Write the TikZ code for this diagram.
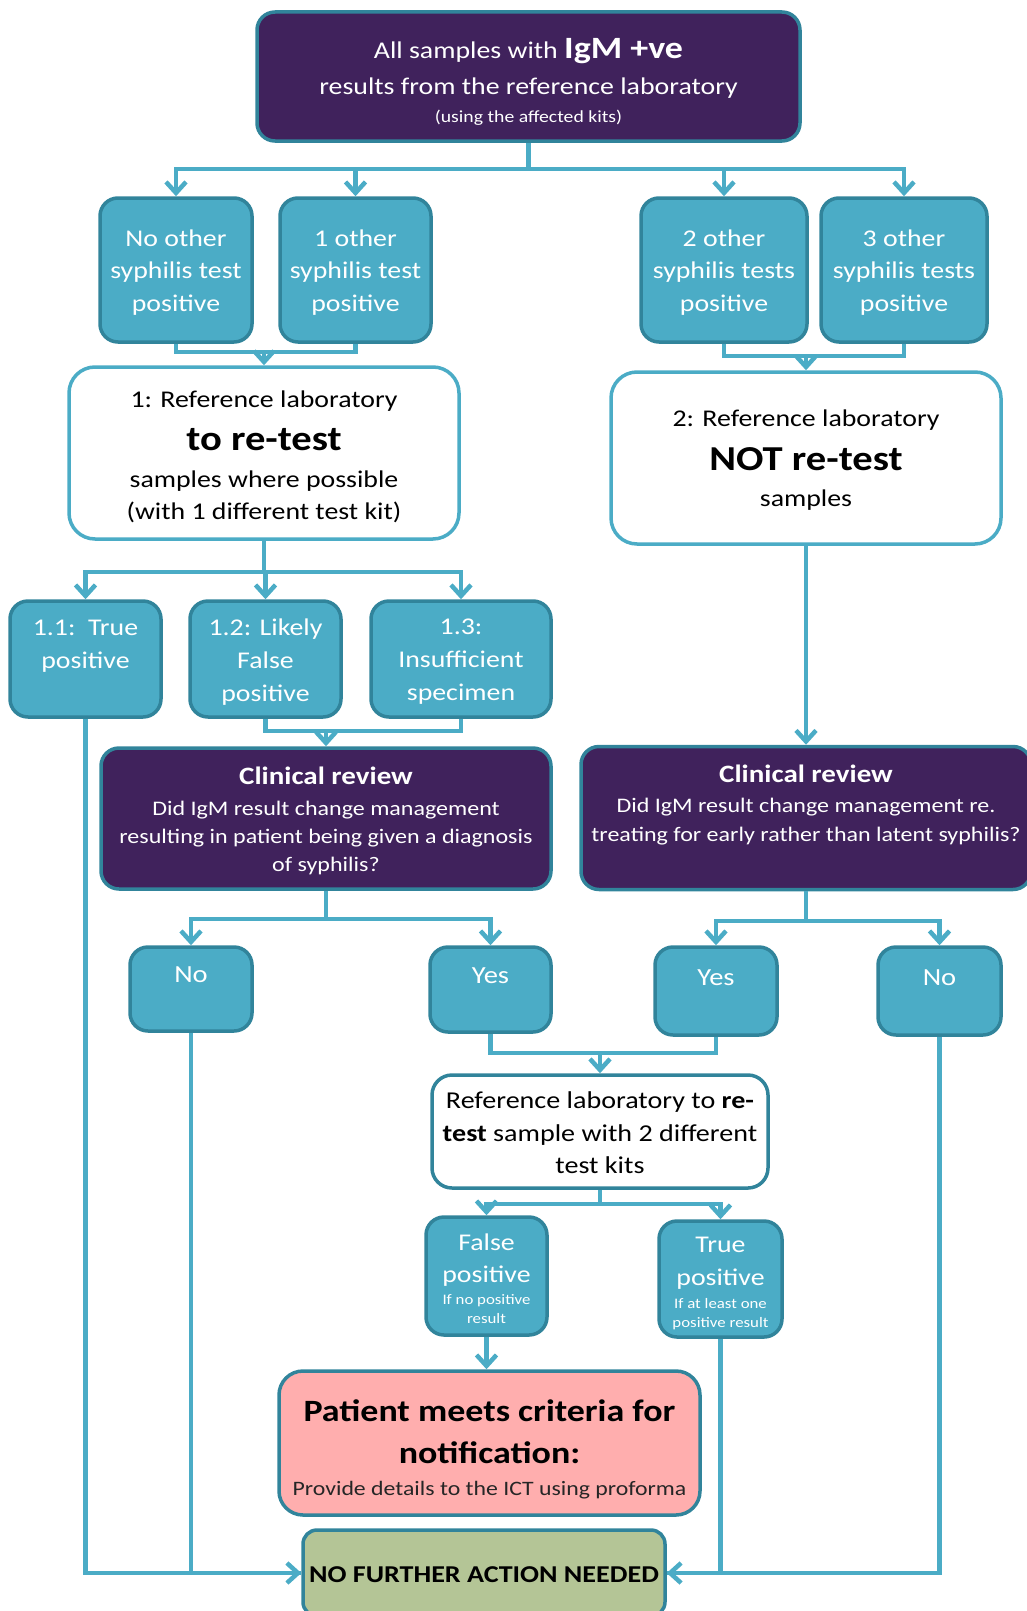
\documentclass[tikz,border=0pt]{standalone}
\usepackage{fontspec}
\setmainfont{Carlito}[FakeStretch=1.16]
\usetikzlibrary{arrows.meta}

\definecolor{aqua}{HTML}{4BACC6}
\definecolor{aquadark}{HTML}{31849B}
\definecolor{plum}{RGB}{64,34,92}
\definecolor{rose}{RGB}{255,174,174}
\definecolor{sage}{RGB}{180,197,150}

\newcommand{\fsz}[2]{\fontsize{#1}{#2}\selectfont}

\begin{document}
\begin{tikzpicture}[x=1pt,y=-1pt,
  box/.style={rectangle, rounded corners=18pt, line width=3.5pt, inner sep=0pt},
  tealbox/.style={box, fill=aqua, draw=aquadark},
  plumbox/.style={box, fill=plum, draw=aquadark},
  whitebox/.style={box, fill=white, draw=aqua, rounded corners=26pt},
  txt/.style={align=center, inner sep=0pt},
  wtxt/.style={txt, text=white},
  conn/.style={draw=aqua, line width=4.5pt},
  arr/.style={conn, -{Straight Barb[length=11pt,width=20pt]}},
]
\useasboundingbox (0,0) rectangle (1027,1611);

% ---------- boxes ----------
\node[plumbox, minimum width=543pt, minimum height=129pt] (top) at (528.5,76.5) {};
\node[wtxt, font=\fsz{24}{36}] (top-t) at (528.5,81.5)
  {All samples with {\fsz{31}{36}\bfseries IgM +ve}\\
   results from the reference laboratory\\[-8pt]
   \fsz{17}{20}(using the affected kits)};

\node[tealbox, minimum width=152pt, minimum height=144pt] (nso) at (176,270) {};
\node[tealbox, minimum width=151pt, minimum height=144pt] (one) at (355.5,270) {};
\node[tealbox, minimum width=166pt, minimum height=144pt] (two) at (724,270) {};
\node[tealbox, minimum width=166pt, minimum height=144pt] (three) at (904,270) {};
\node[wtxt, font=\fsz{24}{32.5}] (nso-t) at (176,272.5) {No other\\syphilis test\\positive};
\node[wtxt, font=\fsz{24}{32.5}] (one-t) at (355.5,272.5) {1 other\\syphilis test\\positive};
\node[wtxt, font=\fsz{24}{32.5}] (two-t) at (724,272.5) {2 other\\syphilis tests\\positive};
\node[wtxt, font=\fsz{24}{32.5}] (three-t) at (904,272.5) {3 other\\syphilis tests\\positive};

\node[whitebox, minimum width=390pt, minimum height=172pt] (ra) at (264,453) {};
\node[txt, font=\fsz{24}{32}] (ra-t) at (264,456.5)
  {1: Reference laboratory\\[11pt]
   \fsz{35}{40}\bfseries to re-test\\[5pt]
   samples where possible\\
   (with 1 different test kit)};
\node[whitebox, minimum width=390pt, minimum height=172pt] (rb) at (806,458) {};
\node[txt, font=\fsz{24}{40}] (rb-t) at (806,460.5)
  {2: Reference laboratory\\[4pt]
   \fsz{35}{40}\bfseries NOT re-test\\[-4pt]
   samples};

\node[tealbox, minimum width=151pt, minimum height=116pt] (tp1) at (85.5,659) {};
\node[tealbox, minimum width=151pt, minimum height=116pt] (lf) at (265.5,659) {};
\node[tealbox, minimum width=180pt, minimum height=116pt] (ins) at (461,659) {};
\node[wtxt, font=\fsz{24}{33}] (tp1-t) at (85.5,646) {1.1:\ \ True\\positive};
\node[wtxt, font=\fsz{24}{33}] (lf-t) at (265.5,662) {1.2: Likely\\False\\positive};
\node[wtxt, font=\fsz{24}{33}] (ins-t) at (461,662) {1.3:\\Insufficient\\specimen};

\node[plumbox, minimum width=450pt, minimum height=141pt] (crl) at (326,818.5) {};
\node[wtxt, font=\fsz{20.7}{28}] (crl-t) at (326,820.5)
  {\fsz{25}{28}\bfseries Clinical review\\[3pt]
   Did IgM result change management\\
   resulting in patient being given a diagnosis\\
   of syphilis?};
\node[plumbox, minimum width=450pt, minimum height=143pt] (crr) at (806,818) {};
\node[wtxt, font=\fsz{20.7}{29}] (crr-t) at (806,805)
  {\fsz{25}{29}\bfseries Clinical review\\[1pt]
   Did IgM result change management re.\\
   treating for early rather than latent syphilis?};

\node[tealbox, minimum width=122pt, minimum height=84pt] (nol) at (191,989) {};
\node[tealbox, minimum width=121pt, minimum height=85pt] (yesl) at (490.5,989.5) {};
\node[tealbox, minimum width=122pt, minimum height=88pt] (yesr) at (716,991) {};
\node[tealbox, minimum width=123pt, minimum height=88pt] (nor) at (939.5,991) {};
\node[wtxt, font=\fsz{24.6}{28}] (nol-t) at (191,975) {No};
\node[wtxt, font=\fsz{24.6}{28}] (yesl-t) at (490.5,976) {Yes};
\node[wtxt, font=\fsz{24.6}{28}] (yesr-t) at (716,978) {Yes};
\node[wtxt, font=\fsz{24.6}{28}] (nor-t) at (939.5,978) {No};

\node[whitebox, draw=aquadark, rounded corners=20pt, minimum width=336pt, minimum height=113pt] (rt) at (600,1131.5) {};
\node[txt, font=\fsz{24.2}{32.5}] (rt-t) at (600,1133)
  {Reference laboratory to \textbf{re-}\\
   \textbf{test} sample with 2 different\\
   test kits};

\node[tealbox, minimum width=121pt, minimum height=118pt] (fp) at (486.5,1276) {};
\node[tealbox, minimum width=123pt, minimum height=116pt] (tp) at (720.5,1279) {};
\node[wtxt, font=\fsz{24}{32}] (fp-t) at (486.5,1278.5)
  {False\\positive\\[-10pt]
   \fsz{14.5}{18}If no positive\\[-13pt]
   \fsz{14.5}{18}result};
\node[wtxt, font=\fsz{24}{33}] (tp-t) at (720.5,1283.5)
  {True\\positive\\[-10pt]
   \fsz{14.5}{18}If at least one\\[-14pt]
   \fsz{14.5}{18}positive result};

\node[box, fill=rose, draw=aquadark, rounded corners=24pt, minimum width=421pt, minimum height=144pt] (pm) at (489.5,1443) {};
\node[txt, font=\fsz{31}{42}\bfseries] (pm-t) at (489.5,1449)
  {Patient meets criteria for\\
   notification:\\[-10pt]
   \fsz{20.5}{26}\mdseries\color{black!85}Provide details to the ICT using proforma};

\node[box, fill=sage, draw=aquadark, rounded corners=14pt, minimum width=362pt, minimum height=86pt] (nfa) at (484,1573) {};
\node[txt, font=\fsz{24.2}{28}\bfseries] (nfa-t) at (484,1575) {NO FURTHER ACTION NEEDED};

% ---------- connectors ----------
\coordinate (bus1) at (528.5,169);
\foreach \t in {nso,one,two,three}
  \draw[arr] (top.south) -- (bus1) -| (\t.north);

\coordinate (j1) at (264,352);
\draw[conn] (one.south) |- (j1);
\draw[arr] (nso.south) |- (j1) -- (ra.north);

\coordinate (j2) at (806,356);
\draw[conn] (three.south) |- (j2);
\draw[arr] (two.south) |- (j2) -- (rb.north);

\coordinate (bus2) at (264,572);
\foreach \t in {tp1,lf,ins}
  \draw[arr] (ra.south) -- (bus2) -| (\t.north);

\coordinate (j3) at (326,731);
\draw[conn] (ins.south) |- (j3);
\draw[arr] (lf.south) |- (j3) -- (crl.north);

\draw[arr] (rb.south) -- (crr.north);

\coordinate (bus3) at (326,919);
\foreach \t in {nol,yesl}
  \draw[arr] (crl.south) -- (bus3) -| (\t.north);

\coordinate (bus4) at (806,921);
\foreach \t in {yesr,nor}
  \draw[arr] (crr.south) -- (bus4) -| (\t.north);

\coordinate (j4) at (600,1053);
\draw[conn] (yesr.south) |- (j4);
\draw[arr] (yesl.south) |- (j4) -- (rt.north);

\coordinate (bus5) at (600,1204);
\foreach \t in {fp,tp}
  \draw[arr] (rt.south) -- (bus5) -| (\t.north);

\draw[arr] (fp.south) -- (fp.south |- pm.north);

\draw[conn] (nol.south) |- (nfa.west);
\draw[arr] (tp1.south) |- (nfa.west);
\draw[conn] (nor.south) |- (nfa.east);
\draw[arr] (tp.south) |- (nfa.east);
\end{tikzpicture}
\end{document}
